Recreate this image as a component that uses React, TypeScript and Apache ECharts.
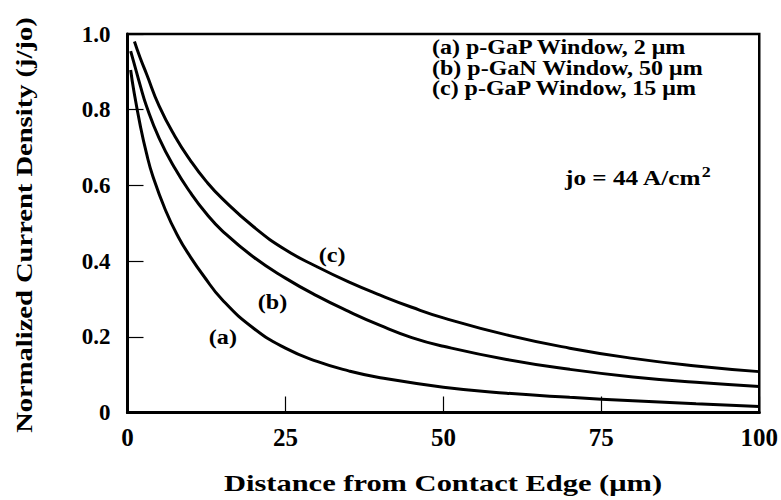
import React, { useEffect, useRef } from "react";
import * as echarts from "echarts";

const xA = [0.5, 1, 2, 3, 4, 6, 8, 10, 12, 15, 20, 25, 30, 35, 40, 50, 60, 70, 80, 90, 100];
const yA = [0.905, 0.85, 0.76, 0.685, 0.625, 0.535, 0.465, 0.41, 0.362, 0.298, 0.222, 0.17, 0.135, 0.11, 0.092, 0.067, 0.051, 0.04, 0.031, 0.023, 0.016];

const xB = [0.5, 1, 2, 3, 5, 7.5, 10, 12.5, 15, 20, 25, 30, 35, 40, 45, 50, 60, 70, 80, 90, 100];
const yB = [0.955, 0.925, 0.865, 0.81, 0.725, 0.645, 0.58, 0.525, 0.48, 0.41, 0.355, 0.308, 0.267, 0.23, 0.198, 0.175, 0.14, 0.114, 0.094, 0.08, 0.069];

const xC = [1.1, 2, 3, 5, 7.5, 10, 12.5, 15, 20, 25, 30, 35, 40, 45, 50, 60, 70, 80, 90, 100];
const yC = [0.98, 0.937, 0.895, 0.81, 0.73, 0.665, 0.61, 0.565, 0.49, 0.43, 0.385, 0.345, 0.31, 0.278, 0.25, 0.205, 0.17, 0.143, 0.123, 0.108];

const curveLabels = ["(a)", "(b)", "(c)"];
const curveLabelPos = [
  [15.1, 0.2],
  [22.95, 0.293],
  [32.4, 0.415],
];

const legendLines = [
  "(a) p-GaP Window, 2 μm",
  "(b) p-GaN Window, 50 μm",
  "(c) p-GaP Window, 15 μm",
];

const xTitle = "Distance from Contact Edge (μm)";
const yTitle = "Normalized Current Density (j/jo)";

const FONT = "Liberation Serif";

function zip(xs: number[], ys: number[]) {
  return xs.map((x, i) => [x, ys[i]]);
}

export default function App() {
  const ref = useRef<HTMLDivElement>(null);
  useEffect(() => {
    if (!ref.current) return;
    const chart = echarts.init(ref.current, undefined, { renderer: "svg" });
    const lineSeries = [zip(xA, yA), zip(xB, yB), zip(xC, yC)].map((d) => ({
      type: "line",
      data: d,
      smooth: 0.5,
      showSymbol: false,
      lineStyle: { color: "#000", width: 3 },
    }));
    chart.setOption({
      animation: false,
      backgroundColor: "#fff",
      grid: {
        left: 127.5,
        right: 21,
        top: 34,
        bottom: 87.5,
        show: true,
        borderColor: "#000",
        borderWidth: 2.5,
        backgroundColor: "transparent",
      },
      xAxis: {
        type: "value",
        min: 0,
        max: 100,
        interval: 25,
        splitLine: { show: false },
        axisLine: { lineStyle: { color: "#000", width: 3 } },
        axisTick: { inside: true, length: 16, lineStyle: { color: "#000", width: 1.2 } },
        axisLabel: {
          color: "#000",
          fontFamily: FONT,
          fontWeight: "bold",
          fontSize: 25,
          margin: 12,
        },
      },
      yAxis: {
        type: "value",
        min: 0,
        max: 1,
        interval: 0.2,
        splitLine: { show: false },
        axisLine: { lineStyle: { color: "#000", width: 3 } },
        axisTick: { inside: true, length: 16, lineStyle: { color: "#000", width: 1.2 } },
        axisLabel: {
          color: "#000",
          fontFamily: FONT,
          fontWeight: "bold",
          fontSize: 23,
          margin: 17,
          formatter: (v: number) => (v === 0 ? "0" : v.toFixed(1)),
        },
      },
      series: lineSeries,
    });

    const labelGraphics = curveLabelPos.map((p, i) => {
      const [px, py] = chart.convertToPixel({ gridIndex: 0 }, p) as number[];
      return {
        type: "text",
        x: px,
        y: py,
        scaleX: 1.15,
        style: {
          text: curveLabels[i],
          fill: "#000",
          font: `bold 21px "${FONT}"`,
          align: "center",
          verticalAlign: "middle",
        },
      };
    });

    chart.setOption({
      graphic: [
        ...labelGraphics,
        {
          type: "text",
          x: 432,
          y: 37,
          scaleX: 1.2,
          style: {
            text: legendLines.join("\n"),
            fill: "#000",
            font: `bold 20px "${FONT}"`,
            lineHeight: 20.5,
          },
        },
        {
          type: "text",
          x: 565,
          y: 165,
          scaleX: 1.2,
          style: {
            text: "jo = 44 A/cm{sup|2}",
            fill: "#000",
            font: `bold 21px "${FONT}"`,
            rich: {
              sup: { fontSize: 15, fontWeight: "bold", fontFamily: FONT, padding: [0, 0, 10, 0] },
            },
          },
        },
        {
          type: "text",
          x: 24,
          y: 225,
          rotation: Math.PI / 2,
          scaleX: 1.19,
          style: {
            text: yTitle,
            fill: "#000",
            font: `bold 24px "${FONT}"`,
            align: "center",
            verticalAlign: "middle",
          },
        },
        {
          type: "text",
          x: 443,
          y: 483,
          scaleX: 1.27,
          style: {
            text: xTitle,
            fill: "#000",
            font: `bold 24px "${FONT}"`,
            align: "center",
            verticalAlign: "middle",
          },
        },
      ],
    });
    return () => chart.dispose();
  }, []);
  return <div ref={ref} style={{ width: 781, height: 500, position: "absolute", left: 0, top: 0 }} />;
}
